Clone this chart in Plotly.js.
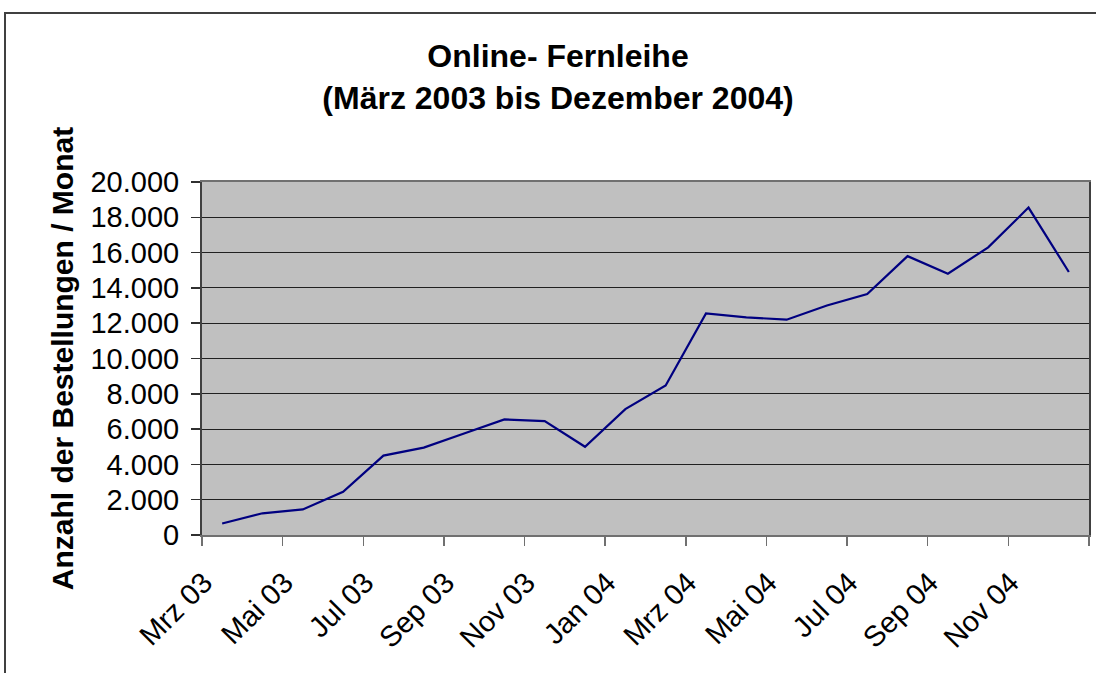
<!DOCTYPE html>
<html>
<head>
<meta charset="utf-8">
<script src="https://cdn.plot.ly/plotly-3.0.1.min.js"></script>
<style>
  html, body { margin:0; padding:0; background:#fff; overflow:hidden; }
  #frame { position:absolute; left:4px; top:12px; width:1200px; height:800px;
           border-left:2px solid #404040; border-top:2px solid #404040; }
  #chart { position:absolute; left:0; top:0; width:1096px; height:673px; }
</style>
</head>
<body>
<div id="frame"></div>
<div id="chart"></div>
<script>
// Months (Mrz 03 .. Dez 04)
const months = ["Mrz 03","Apr 03","Mai 03","Jun 03","Jul 03","Aug 03","Sep 03","Okt 03","Nov 03","Dez 03",
                "Jan 04","Feb 04","Mrz 04","Apr 04","Mai 04","Jun 04","Jul 04","Aug 04","Sep 04","Okt 04","Nov 04","Dez 04"];
// Orders per month
const orders = [650, 1230, 1450, 2450, 4500, 4950, 5750, 6550, 6450, 5000,
                7130, 8470, 12550, 12330, 12200, 13000, 13650, 15800, 14800, 16300, 18550, 14900];
// Tick labels shown every second month
const tickLabels = ["Mrz 03","Mai 03","Jul 03","Sep 03","Nov 03","Jan 04","Mrz 04","Mai 04","Jul 04","Sep 04","Nov 04",""];

const xIdx = months.map((m, i) => i);
const tickPos = tickLabels.map((t, i) => i * 2 - 0.5);

const font = "Liberation Sans, Arial, sans-serif";

Plotly.newPlot("chart", [{
  x: xIdx,
  y: orders,
  text: months,
  type: "scatter",
  mode: "lines",
  line: { color: "#000080", width: 2.2 },
  hoverinfo: "text+y"
}], {
  width: 1096, height: 673,
  paper_bgcolor: "rgba(0,0,0,0)",
  plot_bgcolor: "#C0C0C0",
  separators: ",.",
  showlegend: false,
  margin: { l: 202, r: 7, t: 182, b: 138 },
  title: {
    text: "<b>Online- Fernleihe<br>(März 2003 bis Dezember 2004)</b>",
    font: { family: font, size: 32, color: "#000" },
    xref: "container", x: 558/1096, xanchor: "center",
    yref: "container", y: 1 - 67/673, yanchor: "middle"
  },
  xaxis: {
    range: [-0.5, months.length - 0.5],
    tickmode: "array",
    tickvals: tickPos,
    ticktext: tickLabels,
    tickangle: -45,
    ticks: "outside", ticklen: 9, tickcolor: "#707070", tickwidth: 1.5,
    showgrid: false, zeroline: false,
    showline: true, linecolor: "#707070", linewidth: 2, mirror: true,
    tickfont: { family: font, size: 29, color: "#000" },
    ticklabelstandoff: 8,
    ticklabelshift: 2,
    fixedrange: true
  },
  yaxis: {
    range: [0, 20000],
    tickmode: "linear", tick0: 0, dtick: 2000,
    tickformat: ",d",
    ticks: "outside", ticklen: 9, tickcolor: "#303030", tickwidth: 1.5,
    showgrid: true, gridcolor: "#202020", gridwidth: 1,
    zeroline: false,
    showline: true, linecolor: "#404040", linewidth: 2, mirror: true,
    tickfont: { family: font, size: 29, color: "#000" },
    ticklabelstandoff: 6,
    title: {
      text: "<b>Anzahl der Bestellungen / Monat</b>",
      font: { family: font, size: 30, color: "#000" },
      standoff: 8
    },
    fixedrange: true
  }
}, { displayModeBar: false, staticPlot: true });
</script>
</body>
</html>
